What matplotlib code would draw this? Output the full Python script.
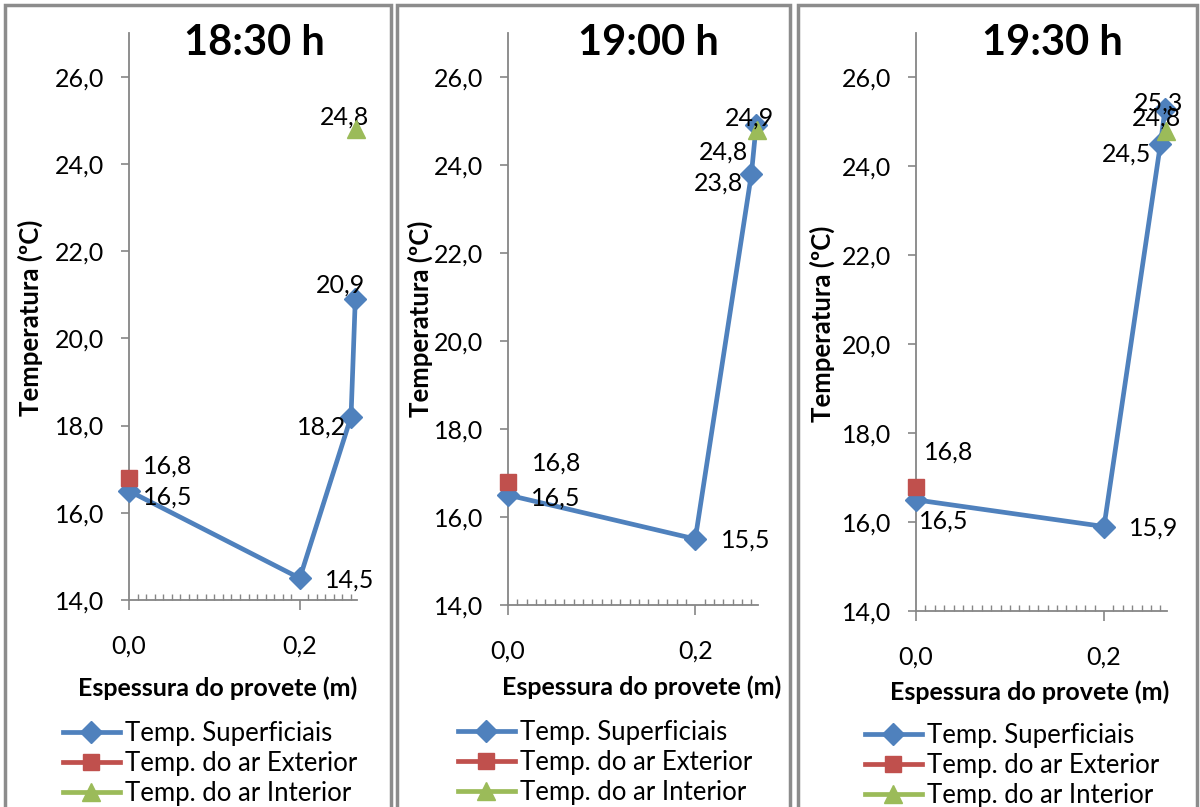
import matplotlib
matplotlib.use("Agg")
import matplotlib.pyplot as plt
from matplotlib.patches import Rectangle
from matplotlib.ticker import FixedLocator, FuncFormatter

plt.rcParams['font.family'] = ['Lato', 'DejaVu Sans']

# ---- data ----
titles = ["18:30 h", "19:00 h", "19:30 h"]
x_surface = [0.0, 0.2, 0.26, 0.265]
t_surface = [
    [16.5, 14.5, 18.2, 20.9],
    [16.5, 15.5, 23.8, 24.9],
    [16.5, 15.9, 24.5, 25.3],
]
x_exterior = [0.0]
t_exterior = [16.8]
x_interior = [0.266]
t_interior = [24.8]
series_names = ["Temp. Superficiais", "Temp. do ar Exterior", "Temp. do ar Interior"]
xlabel = "Espessura do provete (m)"
ylabel = "Temperatura (ºC)"
y_ticks = [14, 16, 18, 20, 22, 24, 26]
x_ticks = [0.0, 0.2]

# ---- style / layout ----
W, H, DPI = 1200, 807, 100
BLUE, RED, GREEN = "#4F81BD", "#C0504D", "#9BBB59"
AX_GRAY = "#868686"
FS = 18

# axes pixel boxes: left, right, bottom(y=14), top(y=27)
boxes = [(129, 357, 600, 33), (508, 758, 605, 33), (916, 1167, 611, 33)]
frames = [(5, 391), (397, 790), (798, 1197)]
title_x = [254, 648, 1052]
xlab_pos = [(218, 688), (642, 687), (1030, 692)]
ylab_pos = [(30, 318), (420, 319), (822, 324)]
legend_pos = [(63, 721), (458, 720), (865, 723)]

# label offsets in pixels (dx, dy up) for surface points, exterior, interior
surf_off = [
    [(39, -6), (50, -2), (-29, -10), (-15, 14)],
    [(48, -3), (50, -1), (-33, -9), (-7, 7)],
    [(28, -21), (50, -2), (-34, -10), (-7, 6)],
]
ext_off = [(39, 12), (49, 19), (33, 34)]
int_off = [(-12, 12), (-34, -22), (-10, 13)]

fig = plt.figure(figsize=(W / DPI, H / DPI), dpi=DPI)

def fmt(v, pos=None):
    return f"{v:.1f}".replace(".", ",")

for i in range(3):
    l, r, b, t = boxes[i]
    ax = fig.add_axes([l / W, 1 - b / H, (r - l) / W, (b - t) / H])
    ax.set_xlim(0, 0.267)
    ax.set_ylim(14, 27)
    for s in ["top", "right"]:
        ax.spines[s].set_visible(False)
    for s in ["left", "bottom"]:
        ax.spines[s].set_color(AX_GRAY)
        ax.spines[s].set_linewidth(1.3)
    ax.yaxis.set_major_locator(FixedLocator(y_ticks))
    ax.xaxis.set_major_locator(FixedLocator(x_ticks))
    ax.xaxis.set_minor_locator(FixedLocator([k / 100 for k in range(1, 27) if k != 20]))
    ax.yaxis.set_major_formatter(FuncFormatter(fmt))
    ax.xaxis.set_major_formatter(FuncFormatter(fmt))
    ax.tick_params(axis="y", which="major", direction="out", length=6, width=1.2,
                   color=AX_GRAY, labelsize=FS, pad=12)
    ax.tick_params(axis="x", which="major", direction="out", length=7, width=1.2,
                   color=AX_GRAY, labelsize=FS, pad=18)
    ax.tick_params(axis="x", which="minor", direction="in", length=4, width=1.0,
                   color=AX_GRAY)

    ls, = ax.plot(x_surface, t_surface[i], color=BLUE, lw=3.4, marker="D",
                  markersize=11, markeredgecolor=BLUE, zorder=3,
                  label=series_names[0], clip_on=False)
    le, = ax.plot(x_exterior, t_exterior, color=RED, lw=3.4, marker="s",
                  markersize=12, linestyle="-", zorder=4, label=series_names[1],
                  clip_on=False)
    li, = ax.plot(x_interior, t_interior, color=GREEN, lw=3.4, marker="^",
                  markersize=13, linestyle="-", zorder=4, label=series_names[2],
                  clip_on=False)

    for xv, yv, off in zip(x_surface, t_surface[i], surf_off[i]):
        ax.annotate(fmt(yv), (xv, yv), xytext=off, textcoords="offset pixels",
                    ha="center", va="center", fontsize=FS, zorder=6,
                    annotation_clip=False)
    ax.annotate(fmt(t_exterior[0]), (x_exterior[0], t_exterior[0]), xytext=ext_off[i],
                textcoords="offset pixels", ha="center", va="center", fontsize=FS,
                annotation_clip=False)
    ax.annotate(fmt(t_interior[0]), (x_interior[0], t_interior[0]), xytext=int_off[i],
                textcoords="offset pixels", ha="center", va="center", fontsize=FS,
                annotation_clip=False)

    ax.set_xlabel(xlabel, fontsize=18, fontweight="bold")
    ax.xaxis.set_label_coords(xlab_pos[i][0] / W, 1 - xlab_pos[i][1] / H,
                              transform=fig.transFigure)
    ax.xaxis.label.set_va("center")
    ax.set_ylabel(ylabel, fontsize=18.5, fontweight="bold")
    ax.yaxis.set_label_coords(ylab_pos[i][0] / W, 1 - ylab_pos[i][1] / H,
                              transform=fig.transFigure)
    ax.yaxis.label.set_va("center")

    fig.text(title_x[i] / W, 1 - 55 / H, titles[i], fontsize=30, fontweight="bold",
             ha="center", va="baseline")

    lx, ly = legend_pos[i]
    fig.legend(handles=[ls, le, li], loc="upper left",
               bbox_to_anchor=(lx / W, 1 - ly / H), bbox_transform=fig.transFigure,
               frameon=False, fontsize=18.5, handlelength=2.2, handletextpad=0.2,
               labelspacing=0.2, borderpad=0, borderaxespad=0, markerscale=1.0)

    fl, fr = frames[i]
    fig.patches.append(Rectangle((fl / W, -0.05), (fr - fl) / W, 1.05 - 5 / H,
                                 transform=fig.transFigure, fill=False,
                                 edgecolor="#8C8C8C", linewidth=2.5, zorder=0))

fig.savefig("out.png", dpi=DPI)
